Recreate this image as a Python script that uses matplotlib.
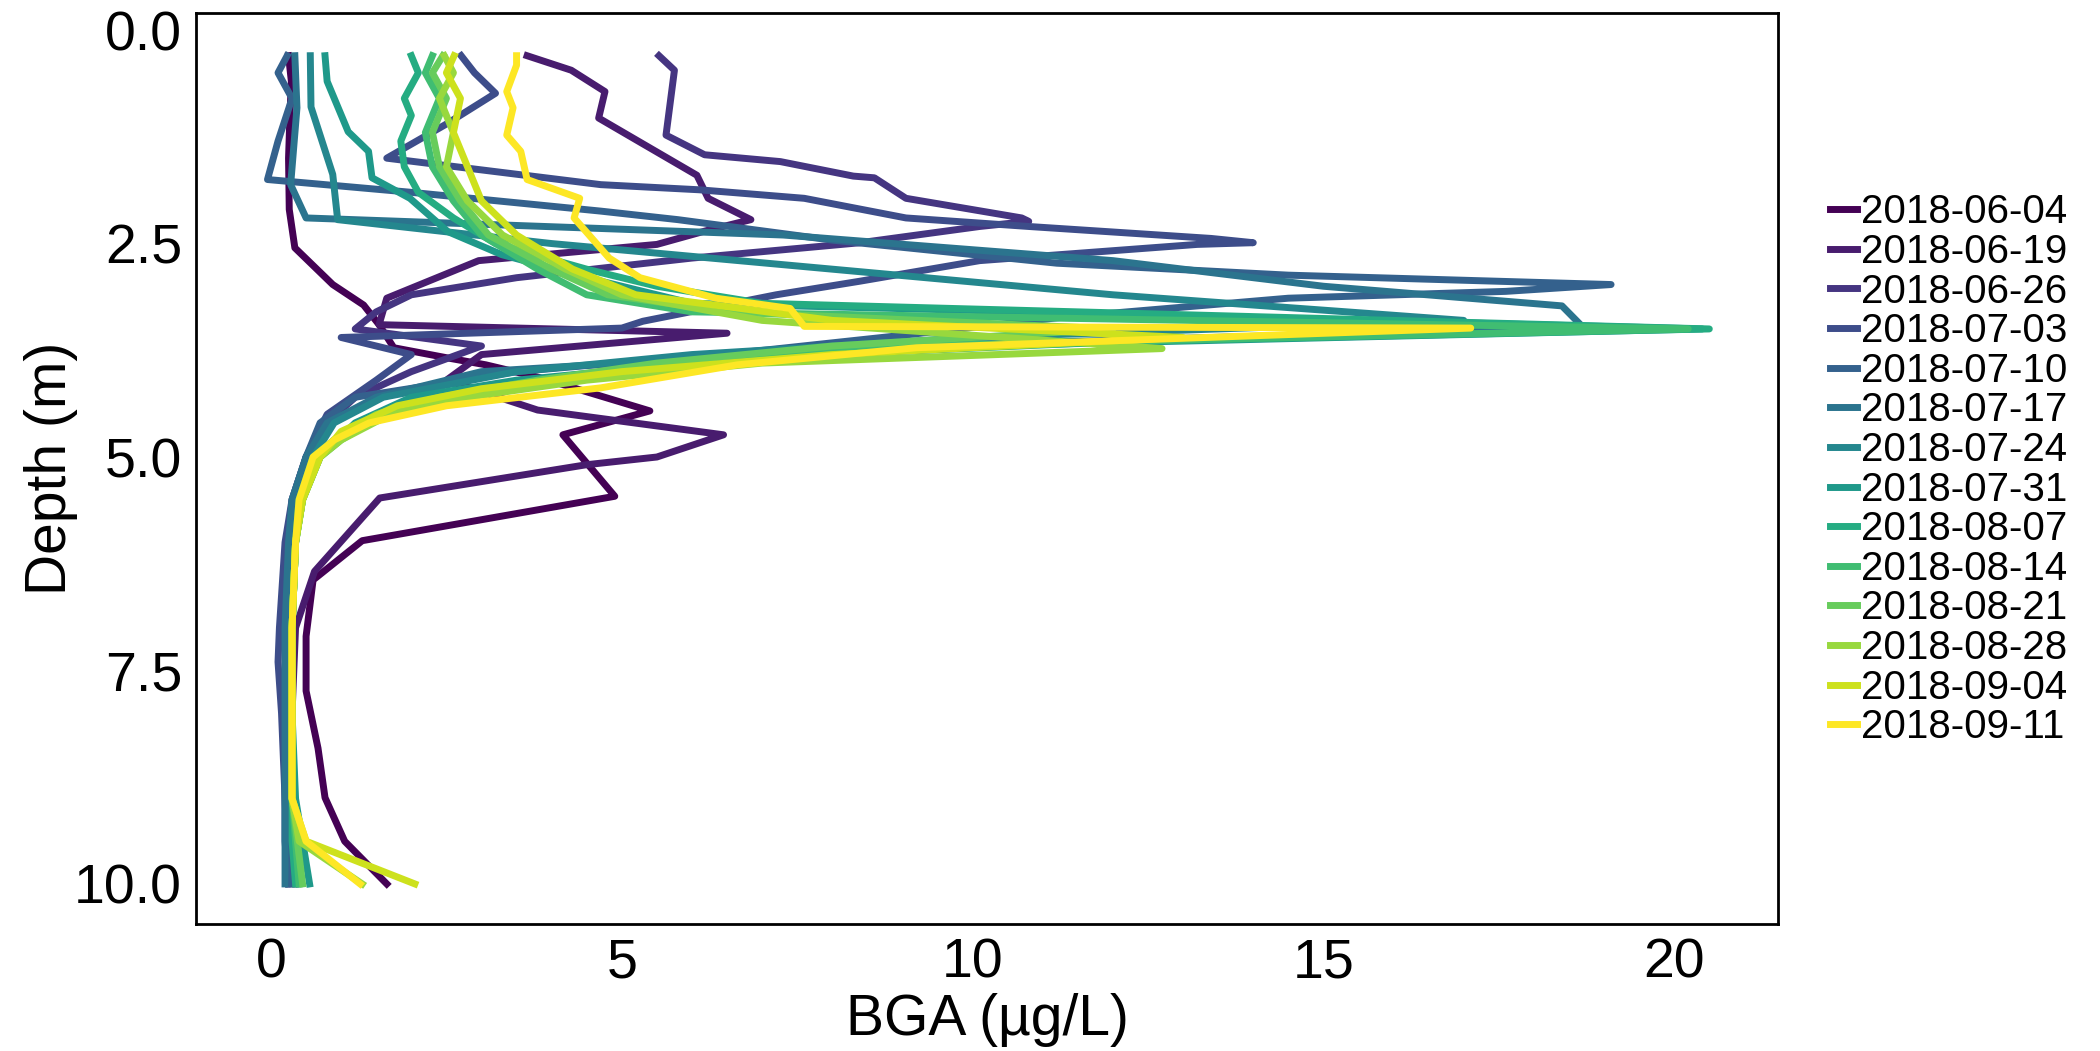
import numpy as np
import matplotlib.pyplot as plt
import matplotlib as mpl

plt.rcParams['font.family'] = ['Liberation Sans', 'DejaVu Sans']

# sampling dates (one profile each)
dates = ["2018-06-04", "2018-06-19", "2018-06-26", "2018-07-03", "2018-07-10",
         "2018-07-17", "2018-07-24", "2018-07-31", "2018-08-07", "2018-08-14",
         "2018-08-21", "2018-08-28", "2018-09-04", "2018-09-11"]

# depth (m) and BGA (ug/L) for each profile
depth_0604 = [0.3, 0.6, 1.0, 1.5, 2.1, 2.55, 2.98, 3.22, 3.45, 3.72, 3.84, 3.92, 4.07, 4.46, 4.74, 5.46, 5.98, 6.44, 7.1, 7.74, 8.41, 8.99, 9.5, 10.0]
bga_0604 = [0.25, 0.29, 0.27, 0.25, 0.26, 0.34, 0.88, 1.32, 1.54, 1.75, 2.52, 3.06, 3.83, 5.4, 4.16, 4.9, 1.3, 0.6, 0.5, 0.5, 0.67, 0.77, 1.05, 1.65]

depth_0619 = [0.3, 0.47, 0.72, 1.03, 1.26, 1.7, 1.97, 2.22, 2.35, 2.51, 2.7, 3.14, 3.45, 3.55, 3.8, 4.1, 4.45, 4.74, 5.0, 5.09, 5.48, 6.34, 7.0, 8.0, 9.0, 10.0]
bga_0619 = [3.65, 4.28, 4.76, 4.67, 5.15, 6.07, 6.23, 6.84, 6.2, 5.5, 2.96, 1.65, 1.54, 6.5, 3.0, 2.5, 3.8, 6.45, 5.5, 4.5, 1.55, 0.62, 0.35, 0.3, 0.3, 0.35]

depth_0626 = [0.3, 0.47, 1.23, 1.46, 1.54, 1.71, 1.73, 1.97, 2.2, 2.24, 2.3, 2.49, 2.67, 2.9, 3.1, 3.3, 3.5, 3.7, 4.0, 4.3, 4.6, 5.0, 5.5, 6.0, 7.0, 8.0, 9.0, 10.0]
bga_0626 = [5.53, 5.75, 5.63, 6.18, 7.26, 8.3, 8.6, 9.05, 10.7, 10.8, 10.1, 8.4, 6.0, 3.5, 2.0, 1.5, 1.2, 3.0, 2.0, 1.2, 0.8, 0.5, 0.3, 0.25, 0.2, 0.2, 0.2, 0.25]

depth_0703 = [0.3, 0.5, 0.74, 1.1, 1.5, 1.81, 1.87, 1.97, 2.2, 2.3, 2.44, 2.49, 2.51, 2.7, 2.94, 3.1, 3.41, 3.49, 3.6, 3.8, 4.1, 4.5, 5.0, 5.5, 6.0, 7.0, 7.4, 8.0, 9.0, 9.5, 10.0]
bga_0703 = [2.71, 2.9, 3.2, 2.5, 1.65, 4.7, 6.1, 7.6, 9.05, 10.8, 13.4, 14.0, 13.2, 10.1, 8.4, 7.2, 5.3, 5.0, 1.0, 2.0, 1.5, 0.8, 0.5, 0.3, 0.2, 0.12, 0.1, 0.15, 0.2, 0.2, 0.25]

depth_0710 = [0.3, 0.5, 0.8, 1.3, 1.75, 1.9, 2.12, 2.22, 2.46, 2.73, 2.87, 2.98, 3.06, 3.14, 3.37, 3.57, 3.76, 4.0, 4.3, 4.6, 5.0, 5.5, 6.0, 7.0, 8.0, 9.0, 10.0]
bga_0710 = [0.23, 0.1, 0.3, 0.1, -0.05, 2.0, 4.7, 5.8, 8.0, 11.2, 14.5, 19.1, 17.6, 14.5, 11.2, 9.05, 6.9, 3.5, 1.2, 0.7, 0.5, 0.35, 0.3, 0.25, 0.25, 0.25, 0.3]

depth_0717 = [0.3, 0.91, 1.81, 2.2, 2.4, 2.7, 3.0, 3.23, 3.48, 3.7, 4.0, 4.3, 4.6, 5.0, 5.5, 6.0, 7.0, 8.0, 9.0, 10.0]
bga_0717 = [0.34, 0.37, 0.28, 0.5, 7.3, 12.0, 15.0, 18.4, 18.7, 9.0, 3.0, 1.5, 0.8, 0.5, 0.3, 0.25, 0.2, 0.2, 0.2, 0.2]

depth_0724 = [0.3, 0.9, 1.69, 2.22, 2.5, 2.8, 3.1, 3.4, 3.6, 3.8, 4.0, 4.3, 4.6, 5.0, 5.5, 6.0, 7.0, 8.0, 9.0, 10.0]
bga_0724 = [0.56, 0.57, 0.88, 0.95, 4.0, 8.0, 12.0, 17.0, 10.0, 6.0, 3.5, 1.6, 0.9, 0.6, 0.4, 0.35, 0.3, 0.3, 0.3, 0.4]

depth_0731 = [0.3, 0.6, 1.19, 1.42, 1.73, 1.97, 2.36, 2.63, 2.9, 3.2, 3.5, 3.7, 3.9, 4.1, 4.3, 4.6, 5.0, 5.5, 6.0, 7.0, 8.0, 9.0, 10.0]
bga_0731 = [0.77, 0.8, 1.1, 1.39, 1.44, 1.98, 2.52, 3.29, 4.5, 6.0, 20.4, 10.0, 6.0, 3.5, 2.0, 1.2, 0.7, 0.45, 0.35, 0.3, 0.3, 0.35, 0.55]

depth_0807 = [0.3, 0.5, 0.8, 1.0, 1.3, 1.6, 1.9, 2.2, 2.5, 2.8, 3.0, 3.2, 3.5, 3.65, 3.8, 4.0, 4.2, 4.4, 4.6, 4.8, 5.0, 5.5, 6.0, 7.0, 8.0, 9.0, 9.5, 10.0]
bga_0807 = [2.0, 2.1, 1.9, 2.0, 1.85, 1.9, 2.1, 2.6, 3.2, 4.5, 5.5, 7.0, 20.5, 12.0, 8.0, 5.5, 3.0, 2.0, 1.3, 0.9, 0.6, 0.4, 0.35, 0.3, 0.3, 0.3, 0.3, 0.35]

depth_0814 = [0.3, 0.5, 0.8, 1.2, 1.6, 2.0, 2.4, 2.8, 3.1, 3.3, 3.5, 3.7, 3.9, 4.1, 4.3, 4.5, 4.8, 5.0, 5.5, 6.0, 7.0, 8.0, 9.0, 10.0]
bga_0814 = [2.3, 2.2, 2.4, 2.2, 2.3, 2.6, 3.0, 3.8, 4.5, 6.0, 20.2, 9.0, 6.0, 4.0, 2.5, 1.6, 1.0, 0.7, 0.45, 0.35, 0.3, 0.3, 0.3, 0.4]

depth_0821 = [0.3, 0.5, 0.8, 1.2, 1.6, 2.0, 2.4, 2.8, 3.1, 3.3, 3.5, 3.7, 3.9, 4.1, 4.3, 4.5, 4.8, 5.0, 5.5, 6.0, 7.0, 8.0, 9.0, 10.0]
bga_0821 = [2.45, 2.3, 2.5, 2.3, 2.4, 2.7, 3.1, 4.0, 4.8, 6.5, 12.0, 8.0, 5.5, 3.8, 2.4, 1.5, 0.9, 0.65, 0.45, 0.35, 0.3, 0.3, 0.3, 0.45]

depth_0828 = [0.3, 0.5, 0.8, 1.2, 1.6, 2.0, 2.4, 2.8, 3.1, 3.4, 3.73, 3.9, 4.1, 4.3, 4.5, 4.8, 5.0, 5.5, 6.0, 7.0, 8.0, 9.0, 9.5, 10.0]
bga_0828 = [2.47, 2.6, 2.4, 2.6, 2.5, 2.8, 3.3, 4.2, 5.0, 7.0, 12.7, 7.0, 4.5, 2.8, 1.7, 1.0, 0.7, 0.45, 0.35, 0.3, 0.3, 0.3, 0.4, 1.3]

depth_0904 = [0.3, 0.5, 0.8, 1.2, 1.6, 2.0, 2.4, 2.8, 3.1, 3.4, 3.6, 3.8, 4.0, 4.2, 4.4, 4.7, 5.0, 5.5, 6.0, 7.0, 8.0, 9.0, 9.5, 10.0]
bga_0904 = [2.61, 2.5, 2.7, 2.6, 2.8, 3.0, 3.5, 4.3, 5.2, 8.0, 13.0, 8.0, 5.0, 3.0, 1.8, 1.0, 0.7, 0.45, 0.35, 0.3, 0.3, 0.3, 0.5, 2.05]

depth_0911 = [0.3, 0.41, 0.72, 0.91, 1.23, 1.42, 1.75, 1.97, 2.2, 2.67, 2.9, 3.14, 3.26, 3.47, 3.49, 3.72, 3.92, 4.19, 4.4, 4.6, 4.8, 5.0, 5.5, 6.0, 7.0, 8.0, 9.0, 9.5, 10.0]
bga_0911 = [3.5, 3.5, 3.36, 3.45, 3.36, 3.56, 3.65, 4.4, 4.32, 4.82, 5.26, 6.34, 7.4, 7.6, 17.1, 9.2, 6.65, 4.7, 2.5, 1.4, 0.9, 0.6, 0.4, 0.35, 0.3, 0.3, 0.3, 0.5, 1.27]

profiles = [(depth_0604, bga_0604), (depth_0619, bga_0619), (depth_0626, bga_0626),
            (depth_0703, bga_0703), (depth_0710, bga_0710), (depth_0717, bga_0717),
            (depth_0724, bga_0724), (depth_0731, bga_0731), (depth_0807, bga_0807),
            (depth_0814, bga_0814), (depth_0821, bga_0821), (depth_0828, bga_0828),
            (depth_0904, bga_0904), (depth_0911, bga_0911)]

colors = mpl.colormaps["viridis"](np.linspace(0, 1, len(dates)))

fig = plt.figure(figsize=(21, 10.51), dpi=100)
ax = fig.add_axes([0.0933, 0.1208, 0.7534, 0.8668])

for (d, v), c, lab in zip(profiles, colors, dates):
    ax.plot(v, d, color=c, lw=5.0, label=lab)

ax.set_xlim(-1.07, 21.48)
ax.set_ylim(10.47, -0.2)
ax.set_xticks([0, 5, 10, 15, 20])
ax.set_yticks([0, 2.5, 5, 7.5, 10])
ax.set_yticklabels(["0.0", "2.5", "5.0", "7.5", "10.0"])
ax.tick_params(length=0, labelsize=40, pad=10)
for s in ax.spines.values():
    s.set_linewidth(2)
ax.set_xlabel("BGA (µg/L)", fontsize=41, labelpad=2)
ax.set_ylabel("Depth (m)", fontsize=41, labelpad=-3)

fig.legend(loc="center left", bbox_to_anchor=(0.862, 0.553), frameon=False,
           fontsize=29, labelspacing=0.04, handlelength=0.65, handletextpad=0.12,
           borderpad=0)

fig.savefig("out.png", dpi=100)
